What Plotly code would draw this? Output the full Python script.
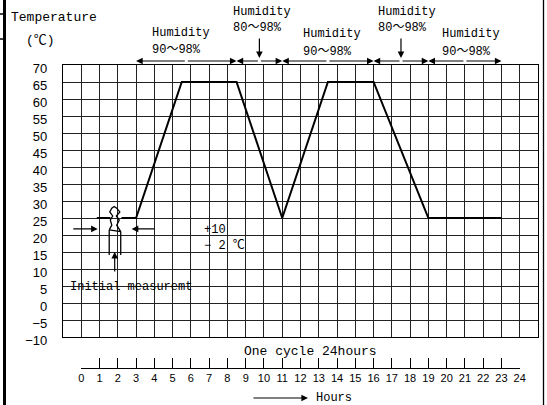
import plotly.graph_objects as go

# ---------------- data ----------------
profile_hours = [2.2, 3, 5.5, 8.5, 11, 13.5, 16, 19, 23]
profile_temps = [25, 25, 65, 65, 25, 65, 65, 25, 25]

init_hours = [0.85, 1.6]
init_temps = [25, 25]

# break symbol (wavy cut) near the initial measurement
break_hours = [1.53, 1.67, 1.59, 1.72, 1.56, 1.67, 1.80, 1.94, 2.11, 1.92, 2.08, 1.94, 2.16, 1.53,
               None, 1.53, 1.53, None, 2.16, 2.16]
break_temps = [21.5, 22.9, 24.4, 25.6, 26.8, 27.9, 28.4, 27.9, 26.8, 25.6, 24.4, 22.9, 21.0, 21.5,
               None, 21.5, 14.1, None, 21.0, 14.1]

hour_ticks = list(range(0, 25))
temp_ticks = list(range(-10, 71, 5))

hum_bounds = [3, 8.5, 11, 16, 19, 23]
hum_ranges = ["90～98%", "80～98%", "90～98%", "80～98%", "90～98%"]
hum_text_hours = [3.75, 8.17, 12.05, 16.12, 19.62]
hum_line1_px = [33, 12, 34, 12, 34]
hum_line2_px = [50, 28, 52, 28, 52]
hum_down_arrows = [9.75, 17.5]

MONO = "Liberation Mono, Noto Sans CJK JP, monospace"
SANS = "Liberation Sans, Arial, sans-serif"

W, H = 547, 405
ML, MR, MT, MB = 63, 9, 65, 37
PW = W - ML - MR
PH = H - MT - MB
MAIN_BOTTOM_PX = 337


def px_to_paper_x(px):
    return (px - ML) / PW


def px_to_paper_y(py):
    return (H - MB - py) / PH


def px_to_dom_y(py):
    return (MAIN_BOTTOM_PX - py) / (MAIN_BOTTOM_PX - MT)


fig = go.Figure()

fig.add_trace(go.Scatter(x=profile_hours, y=profile_temps, mode="lines",
                         line=dict(color="black", width=2), showlegend=False, hoverinfo="skip"))
fig.add_trace(go.Scatter(x=init_hours, y=init_temps, mode="lines",
                         line=dict(color="black", width=2), showlegend=False, hoverinfo="skip"))
fig.add_trace(go.Scatter(x=break_hours, y=break_temps, mode="lines",
                         line=dict(color="black", width=1.3), showlegend=False, hoverinfo="skip",
                         connectgaps=False))
# bottom hours axis carrier trace (invisible)
fig.add_trace(go.Scatter(x=[0, 24], y=[0, 0], xaxis="x2", yaxis="y2", mode="markers",
                         marker=dict(opacity=0), showlegend=False, hoverinfo="skip"))

ann = []
# humidity labels
for hx, rng, y1, y2 in zip(hum_text_hours, hum_ranges, hum_line1_px, hum_line2_px):
    ann.append(dict(x=hx, y=px_to_dom_y(y1), xref="x", yref="y domain", text="Humidity",
                    showarrow=False, xanchor="left", yanchor="middle",
                    font=dict(family=MONO, size=12, color="black")))
    ann.append(dict(x=hx, y=px_to_dom_y(y2), xref="x", yref="y domain", text=rng,
                    showarrow=False, xanchor="left", yanchor="middle",
                    font=dict(family=MONO, size=12, color="black")))

# humidity section arrows
arrow_y = px_to_dom_y(61)
for a, b in zip(hum_bounds[:-1], hum_bounds[1:]):
    mid = (a + b) / 2
    for tip in (a, b):
        ann.append(dict(x=tip, y=arrow_y, xref="x", yref="y domain", ax=mid, axref="x",
                        ay=0, ayref="pixel", showarrow=True, arrowhead=2, arrowsize=1.1,
                        arrowwidth=1.2, arrowcolor="black", text=""))
for hx in hum_down_arrows:
    ann.append(dict(x=hx, y=px_to_dom_y(58), xref="x", yref="y domain", ax=0, ay=-21,
                    showarrow=True, arrowhead=2, arrowsize=1.1, arrowwidth=1.2,
                    arrowcolor="black", text=""))

# initial measurement arrows
ann.append(dict(x=1.83, y=15.0, xref="x", yref="y", ax=1.83, ay=8.8, axref="x", ayref="y",
                showarrow=True, arrowhead=2, arrowsize=1.1, arrowwidth=1.2, arrowcolor="black", text=""))
ann.append(dict(x=0.9, y=21.8, xref="x", yref="y", ax=-0.52, ay=21.8, axref="x", ayref="y",
                showarrow=True, arrowhead=2, arrowsize=1.1, arrowwidth=1.2, arrowcolor="black", text=""))
ann.append(dict(x=2.76, y=21.8, xref="x", yref="y", ax=4.08, ay=21.8, axref="x", ayref="y",
                showarrow=True, arrowhead=2, arrowsize=1.1, arrowwidth=1.2, arrowcolor="black", text=""))

ann.append(dict(x=-0.7, y=4.8, xref="x", yref="y", text="Initial measuremt", showarrow=False,
                xanchor="left", yanchor="middle", font=dict(family=MONO, size=12, color="black")))
ann.append(dict(x=6.62, y=21.5, xref="x", yref="y", text="+10", showarrow=False,
                xanchor="left", yanchor="middle", font=dict(family=MONO, size=12, color="black")))
ann.append(dict(x=6.62, y=16.8, xref="x", yref="y", text="− 2 ℃", showarrow=False,
                xanchor="left", yanchor="middle", font=dict(family=MONO, size=12, color="black")))

# axis titles
ann.append(dict(x=px_to_paper_x(9), y=px_to_paper_y(17), xref="paper", yref="paper",
                text="Temperature", showarrow=False, xanchor="left", yanchor="middle",
                font=dict(family=MONO, size=13, color="black")))
ann.append(dict(x=px_to_paper_x(24), y=px_to_paper_y(41), xref="paper", yref="paper",
                text="(℃)", showarrow=False, xanchor="left", yanchor="middle",
                font=dict(family=MONO, size=13, color="black")))
ann.append(dict(x=px_to_paper_x(310), y=px_to_paper_y(351), xref="paper", yref="paper",
                text="One cycle 24hours", showarrow=False, xanchor="center", yanchor="middle",
                font=dict(family=MONO, size=13, color="black")))
ann.append(dict(x=px_to_paper_x(308), y=px_to_paper_y(398), xref="paper", yref="paper",
                ax=-56, ay=0, showarrow=True, arrowhead=2, arrowsize=1.1, arrowwidth=1.2,
                arrowcolor="black", text=""))
ann.append(dict(x=px_to_paper_x(314), y=px_to_paper_y(398), xref="paper", yref="paper",
                text="Hours", showarrow=False, xanchor="left", yanchor="middle",
                font=dict(family=MONO, size=12, color="black")))

shapes = [
    # thick left page border
    dict(type="rect", xref="paper", yref="paper", x0=px_to_paper_x(3), x1=px_to_paper_x(6),
         y0=px_to_paper_y(405), y1=px_to_paper_y(0), fillcolor="black", line=dict(width=0)),
    dict(type="line", xref="paper", yref="paper", x0=px_to_paper_x(0), x1=px_to_paper_x(6),
         y0=px_to_paper_y(14), y1=px_to_paper_y(14), line=dict(color="black", width=1.5)),
    dict(type="line", xref="paper", yref="paper", x0=px_to_paper_x(0), x1=px_to_paper_x(6),
         y0=px_to_paper_y(39), y1=px_to_paper_y(39), line=dict(color="black", width=1.5)),
    # thin right page border
    dict(type="line", xref="paper", yref="paper", x0=px_to_paper_x(543.5), x1=px_to_paper_x(543.5),
         y0=px_to_paper_y(405), y1=px_to_paper_y(0), line=dict(color="black", width=1.3)),
]

main_dom0 = (H - MB - MAIN_BOTTOM_PX) / PH

fig.update_layout(
    width=W, height=H,
    margin=dict(l=ML, r=MR, t=MT, b=MB),
    paper_bgcolor="white", plot_bgcolor="white",
    showlegend=False,
    xaxis=dict(range=[-1, 25], tick0=-1, dtick=1, showgrid=True, gridcolor="#222", gridwidth=1,
               showticklabels=False, ticks="", zeroline=False, showline=True, linecolor="black",
               linewidth=1.3, mirror=True, fixedrange=True, domain=[0, 1], anchor="y"),
    yaxis=dict(range=[-10, 70], tickvals=temp_ticks, showgrid=True, gridcolor="#222", gridwidth=1,
               ticks="", zeroline=False, showline=True, linecolor="black", linewidth=1.3, mirror=True,
               tickfont=dict(family=SANS, size=13, color="black"), ticklabelstandoff=12,
               ticklabelshift=3, domain=[main_dom0, 1], fixedrange=True, anchor="x",
               automargin=False),
    xaxis2=dict(range=[0, 24], tickvals=hour_ticks, ticktext=[str(h) for h in hour_ticks],
                domain=[1 / 26, 25 / 26], anchor="y2", showgrid=False, zeroline=False,
                showline=True, linecolor="black", linewidth=1, ticks="inside", ticklen=10,
                tickcolor="black", tickwidth=1, tickfont=dict(family=SANS, size=11, color="black"),
                fixedrange=True, automargin=False),
    yaxis2=dict(range=[0, 1], domain=[0, 0.05], visible=False, fixedrange=True, anchor="x2"),
    annotations=ann,
    shapes=shapes,
)

fig.write_html("out.html", config={"displayModeBar": False},
               post_script="document.body.style.margin='0';document.body.style.padding='0';")
